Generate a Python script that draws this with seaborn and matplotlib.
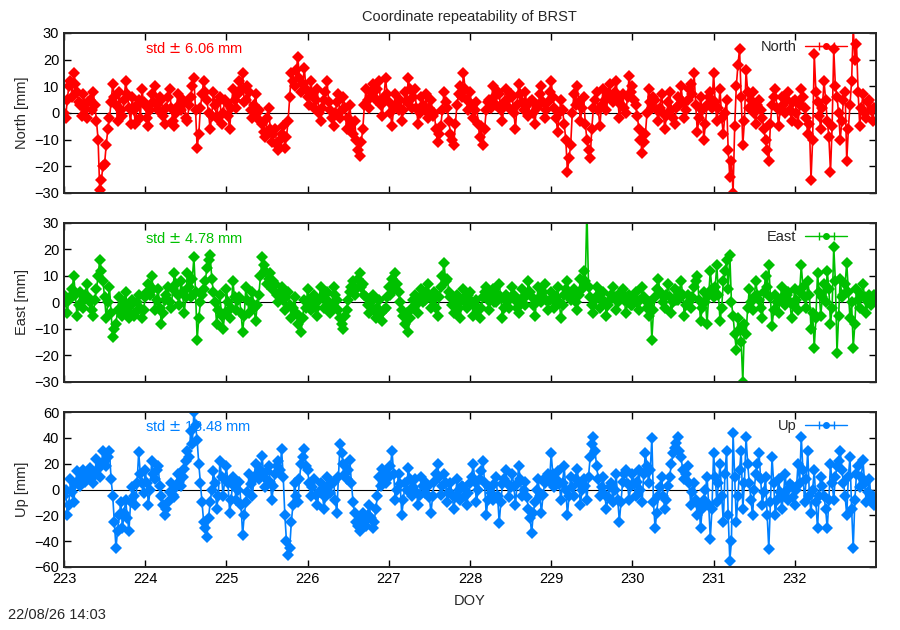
import numpy as np
import pandas as pd
import matplotlib
matplotlib.use("Agg")
import matplotlib.pyplot as plt
import seaborn as sns

# -----------------------------------
# DATA (50 samples per day)
# -----------------------------------
start_doy = 223.0
step_doy = 0.02

north = [
    # 223
    0, -2, 5, 10, 12, 6, 15, 11, 8, 4, 3, -1, 7, 2, -2, 4, 5, 1, 8, 3, -3, -10, -29, -25, -20,
    -19, -12, -6, -2, 4, 11, 6, 3, -3, 8, 1, -1, 5, 12, 7, 2, -4, 6, 1, -4, 3, 5, -2, 9, 4,
    # 224
    3, -2, -5, 1, 7, 4, 10, 3, 1, 6, 5, -1, -4, 2, 6, 9, 2, -3, -5, 0, 7, 3, 1, 5, 4,
    -2, -3, 3, 6, 10, 13, 1, -13, -8, 2, 7, 12, 8, 5, 0, -6, -1, 8, 3, -2, 4, 6, -4, 0, 5,
    # 225
    4, -1, -6, 2, 9, 5, 2, 7, 12, 9, 15, 4, 5, 10, 8, 1, -2, 3, 7, 0, 1, -3, -4, -7, -9,
    -2, 2, -6, -11, -8, -6, -12, -14, -10, -8, -5, -13, -9, -3, 6, 15, 12, 10, 16, 21, 13, 8, 11, 17, 9,
    # 226
    6, 3, 12, 7, 2, 5, 9, 0, -3, 2, 5, 8, 12, 4, 1, -2, -5, 0, 4, 7, -2, 1, 6, 2, -6,
    -2, 3, -4, -8, -3, -10, -14, -16, -11, -6, 3, 9, 5, 2, 8, 11, 6, 5, 9, 12, 3, -1, 6, 13, 7,
    # 227
    4, 0, -5, 2, 7, 3, 1, 5, -3, 1, 8, 4, 13, 9, 2, 6, 9, 2, -4, 0, 6, 3, 1, 7, -2,
    2, 5, -1, 0, -6, -11, -8, -5, 1, 8, 4, 2, -3, -8, -10, -12, -4, 3, 7, 10, 6, 15, 9, 5, 1,
    # 228
    8, 3, -2, 1, 4, -4, -9, -5, -12, -6, 1, 4, 5, 2, 10, 6, 3, 8, 7, 1, -3, 4, 9, 5, 2,
    7, 6, 0, -6, 3, 11, 7, 4, 1, 8, 3, -1, 4, 5, 0, -4, 2, 3, 7, 10, 4, -2, 1, 4, 8,
    # 229
    12, 6, 2, -2, -7, 0, 5, 1, -4, -10, -22, -17, -12, 0, 7, 3, 10, 4, -3, 2, 6, -4, -10, -14, -17,
    -6, 2, 5, 8, 1, -5, 3, 9, 5, 1, 7, 11, 6, 4, 8, 12, 5, -2, 3, 7, 2, 0, 6, 14, 8,
    # 230
    10, 5, 3, -1, -6, -10, -15, -11, -8, 0, 9, 4, 2, 6, 5, 1, -3, 2, 7, 0, -6, -1, 4, 8, 1,
    -2, -4, 2, 6, 3, 10, 4, -2, 1, 5, 9, 11, 7, 15, 3, -7, -2, 6, 1, -10, -4, 3, 6, 8, 2,
    # 231
    15, 4, -3, 2, 9, -2, -8, 0, 5, -14, -24, -18, -30, -5, 10, 18, 24, 6, -12, -3, 16, 8, 2, 5, 8,
    0, -4, 3, 5, 1, -2, -6, -10, -14, -18, -4, 3, 6, 9, 2, -5, 1, 6, 3, 0, 5, 8, 1, -3, 4,
    # 232
    5, 0, -4, 3, 9, 6, 2, -2, -8, -4, -25, -10, 22, 8, 4, -1, -6, 2, 12, 5, -3, -9, -22, -5, 24,
    10, 6, 0, -10, -3, 5, 8, -18, -6, 3, 12, 32, 20, 26, 8, -5, 2, 7, 0, -2, 4, 5, 1, -3, 2,
]

east = [
    # 223
    3, 0, -4, 1, 2, 5, 10, 3, -5, -1, 4, 0, -2, 3, 7, 2, 0, -3, -5, 1, 5, 10, 16, 12, 8,
    2, -6, 0, 6, -4, -13, -10, -8, -3, 2, -2, -5, 0, 4, -3, -6, -1, 1, -5, -4, 0, 3, -2, -6, -3,
    # 224
    2, 4, 7, 3, 10, 5, -3, 1, 5, -2, -8, -4, 1, 3, 6, 0, -2, 5, 11, 7, 3, -1, 8, 4, -4,
    2, 11, 6, 2, 9, 17, 4, -14, -6, 0, 3, 5, 8, 13, 16, 18, 9, 4, 0, -8, -3, 3, -5, -10, -4,
    # 225
    5, 0, -6, -2, 8, 2, -3, 1, 2, -4, -11, -5, 6, 1, -4, 0, 4, -2, -7, -1, 3, 10, 17, 14, 12,
    7, 9, 11, 5, 8, 7, 3, 0, 4, 6, 1, -3, 2, 4, -1, -6, -2, 2, -4, -8, -5, -11, -6, 1, -2,
    # 226
    5, 1, -3, 0, 3, -2, -5, 1, 6, 2, -2, 3, 4, 0, -4, -1, 6, 3, 1, -3, -6, -8, -10, -5, -3,
    1, 4, 6, 8, 3, 5, 9, 11, 6, 7, 3, 2, -1, -4, 0, 3, -3, -6, -2, 1, -4, -7, -3, -2, 2,
    # 227
    6, 3, 9, 5, 11, 7, 4, 0, -3, -5, -8, -4, -11, -6, -2, 1, 3, -1, -4, 2, 5, 0, 1, 4, 7,
    3, -2, 1, 4, -2, -5, 2, 6, 10, 15, 8, 9, 4, 2, -1, -4, 0, 3, -2, -6, 1, 5, 0, -2, 3,
    # 228
    4, 0, -5, -1, 1, -3, -6, -2, 2, 4, 6, 1, -3, 2, 5, 0, 0, 3, 7, 2, -6, -2, 3, 0, -2,
    2, 6, 3, 1, -2, -4, 1, 5, 2, -1, 3, 8, 4, 2, -1, -5, 0, 6, 2, 0, 4, 7, 1, -3, 1,
    # 229
    4, 1, -2, 2, 6, 0, -6, -1, 3, 5, 8, 2, 1, 4, 5, 0, -3, 3, 9, 5, 12, 8, 35, 6, 2,
    -1, -4, 1, 6, 3, -2, 1, 4, 0, -5, -1, 1, 3, 6, 2, -3, 0, 2, 4, 5, 1, -4, 0, 3, -1,
    # 230
    -1, 2, 4, 0, -3, 1, 6, 2, 1, -2, -5, 0, -14, -3, 2, 5, 9, 4, 3, 0, -2, 3, 7, 2, -4,
    0, 5, 1, 1, 4, 8, 3, -5, -1, 3, 0, -2, 2, 6, 8, 10, 1, -7, -2, 4, 0, -8, 3, 12, 5,
    # 231
    2, 6, 14, 3, -7, -2, 8, 12, 16, 5, 18, 0, -5, -12, -18, -6, -10, -15, -30, -8, -12, -2, 5, 0, -3,
    2, 8, 3, 1, -2, -6, 4, 10, 6, 14, 2, -9, -3, 3, 0, -4, 1, 6, 2, -1, 3, 4, 0, -6, -1,
    # 232
    5, 1, -3, 4, 14, 6, 2, -2, 8, 3, -10, -4, -17, -6, 11, 4, -5, 2, 7, 0, 12, 5, -8, -2, 21,
    8, -19, -5, 9, 2, 3, 7, 15, 4, -6, 0, -17, -8, 5, 1, -2, 3, 7, 2, -4, 0, 3, -1, 1, 3,
]

up = [
    # 223
    -5, 0, -20, -12, 8, -2, -10, 4, 14, 7, 3, 10, 15, 6, 8, 12, 17, 9, 5, 13, 24, 16, 10, 20, 30,
    22, 18, 25, 30, 8, -5, -25, -45, -32, -20, -10, -30, -18, -8, -22, -32, -10, 2, -5, -12, 5, 29, 12, 5, -3,
    # 224
    15, 5, -12, 0, 22, 12, 8, 15, 18, 3, -5, -12, -20, -15, -10, -2, 5, -4, -6, 2, 12, 6, 3, 10, 16,
    22, 30, 25, 45, 35, 60, 50, 38, 20, 5, -10, -25, -30, -37, -22, -10, 0, 14, 5, -15, -5, 22, 10, -5, 8,
    # 225
    18, 5, -18, -8, 10, 2, -8, 0, 6, -12, -35, -20, -10, -2, 12, 4, -5, 8, 20, 12, 8, 15, 26, 10, 2,
    14, 18, 6, -8, 3, 12, 18, 22, 15, 31, 10, -20, -40, -51, -45, -25, -12, 5, -5, -10, 8, 20, 25, 31, 18,
    # 226
    15, 5, -5, 2, 8, -4, -12, -2, 5, 0, -15, -6, 10, 3, -3, 5, 6, -8, -18, 10, 35, 28, 20, 12, 8,
    15, 23, 5, -10, -18, -25, -28, -32, -22, -18, -25, -28, -20, -12, -22, -30, -25, -15, -5, 10, 3, 16, 8, 5, 12,
    # 227
    10, 18, 30, 12, -8, 0, 12, 4, -20, -8, 5, 0, 17, 8, -5, 2, 8, -2, -12, -4, 10, 3, -3, 5, 3,
    -6, -18, -5, 6, 12, 20, 10, -4, 3, 12, 5, -10, -2, 5, -4, -15, -6, 8, 0, -8, 3, 2, -5, -12, -3,
    # 228
    5, 10, 20, 6, -10, 0, 8, 14, 22, 5, -20, -8, 2, -3, -8, 4, 10, -5, -26, -10, 4, 8, 15, 5, -6,
    2, 12, 3, -12, 4, 18, 8, -5, 0, 6, -6, -15, -22, -34, -18, -10, 0, 8, -5, -18, -4, 5, 10, 12, 6,
    # 229
    28, 12, 2, 8, 14, 4, -8, 5, 18, 0, -20, -5, 10, 2, -5, 8, 16, 5, -12, 0, 8, 3, -8, 10, 25,
    35, 41, 30, 18, 8, -5, 2, 10, -4, -15, -6, 2, 5, -10, 0, 12, -8, -25, -10, 6, 12, 15, 4, -8, 3,
    # 230
    12, 4, -5, 6, 15, 0, -10, 12, 28, 18, 5, 15, 40, -10, -30, -18, -5, 2, 10, -5, -15, -8, 3, 10, 20,
    28, 32, 36, 41, 30, 25, 15, 8, 12, 18, 5, -12, -2, 5, -8, -20, -12, -30, -15, -8, 0, 10, -12, -38, -15,
    # 231
    28, 10, -10, 5, 20, -5, -25, 12, 30, -20, -55, -40, 44, 10, -25, -5, 15, 30, -15, 5, 41, 20, 5, -8, -20,
    0, 12, 20, 28, 8, -12, -2, 10, -20, -46, -10, 25, 5, -20, -8, 8, -2, -15, -5, 12, 0, -8, 4, 3, -6,
    # 232
    -12, 0, 20, 5, 41, 15, -10, 8, 30, -5, -18, 0, 15, -10, -30, -5, 10, 3, -5, -15, -30, -8, 20, 5, -8,
    10, 18, 22, 30, 15, 5, -5, -20, 10, 25, -15, -45, -8, 12, 18, 2, 10, 23, 5, -10, -2, 8, -8, -5, -12,
]

components = ["North", "East", "Up"]
std_mm = [6.06, 4.78, 13.48]
colors = ["#ff0000", "#00c000", "#0080ff"]
ylims = [(-30, 30), (-30, 30), (-60, 60)]
ysteps = [10, 10, 20]

doy = start_doy + step_doy * np.arange(len(north))
df = pd.DataFrame({"doy": doy, "North": north, "East": east, "Up": up})

# -----------------------------------
# VISUAL SETTINGS
# -----------------------------------
sns.set_style("ticks")
plt.rcParams["font.family"] = ["Liberation Sans", "DejaVu Sans"]
plt.rcParams["font.size"] = 10.5

fig = plt.figure(figsize=(9, 6.3), dpi=100)

# panel boxes in figure fraction (left, bottom, width, height)
boxes = [
    (0.0711, 0.6937, 0.9022, 0.2540),
    (0.0711, 0.3937, 0.9022, 0.2524),
    (0.0711, 0.1000, 0.9022, 0.2460),
]

for i, comp in enumerate(components):
    ax = fig.add_axes(boxes[i])
    c = colors[i]

    ax.axhline(0, color="black", lw=0.8, zorder=0)
    sns.lineplot(data=df, x="doy", y=comp, ax=ax, color=c, lw=1.2,
                 marker="D", markersize=6.5, markeredgewidth=0, zorder=2)

    # legend: label left of an errorbar sample, like gnuplot
    eb = ax.errorbar([np.nan], [np.nan], xerr=[1], color=c, marker="o",
                     markersize=4, capsize=3, lw=1)
    ax.legend([eb], [comp], loc="upper right", bbox_to_anchor=(0.972, 0.99),
              frameon=False, markerfirst=False, handlelength=2.9,
              fontsize=10.5, borderaxespad=0, handletextpad=0.6)

    ax.text(0.1, 0.905, "std $\\pm$ %.2f mm" % std_mm[i], color=c,
            transform=ax.transAxes, ha="left", va="center", fontsize=10.5)

    ax.set_xlim(223, 233)
    ax.set_ylim(*ylims[i])
    ax.set_yticks(np.arange(ylims[i][0], ylims[i][1] + 1, ysteps[i]))
    ax.set_xticks(np.arange(223, 233))
    ax.tick_params(direction="in", top=True, right=True, length=5,
                   width=1, labelsize=10.5, colors="black")
    ax.tick_params(axis="y", labelright=False)
    for sp in ax.spines.values():
        sp.set_linewidth(1.4)
    ax.set_ylabel(comp + " [mm]", fontsize=10.5, labelpad=4)
    if i < 2:
        ax.set_xlabel("")
        ax.tick_params(axis="x", labelbottom=False)
    else:
        ax.set_xlabel("DOY", fontsize=10.5, labelpad=6)

fig.text(0.522, 0.984, "Coordinate repeatability of BRST", ha="center",
         va="top", fontsize=10.5)
fig.text(0.009, 0.012, "22/08/26 14:03", ha="left", va="bottom", fontsize=10.5)

fig.savefig("out.png", dpi=100)
